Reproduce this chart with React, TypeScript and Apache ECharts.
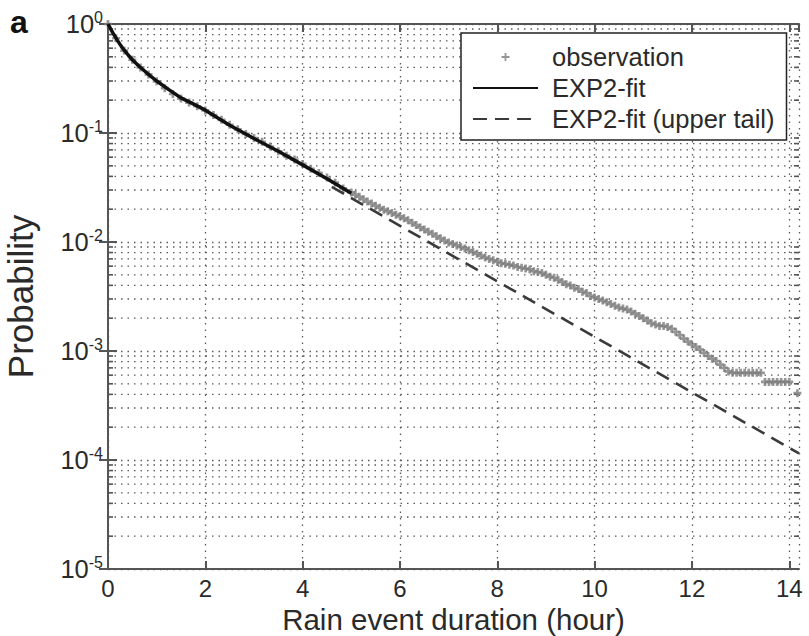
import React, { useEffect, useRef } from "react";
import * as echarts from "echarts";

const FONT = "'Liberation Sans', Arial, Helvetica, sans-serif";

// Observation: duration (hours) and exceedance probability
// 10-minute steps up to 5 h
const obsDurationHead: number[] = [
  0, 0.167, 0.333, 0.5, 0.667, 0.833, 1.0, 1.167, 1.333, 1.5, 1.667, 1.833, 2.0, 2.167, 2.333, 2.5, 2.667, 2.833,
  3.0, 3.167, 3.333, 3.5, 3.667, 3.833, 4.0, 4.167, 4.333, 4.5, 4.667, 4.833,
];
const obsProbHead: number[] = [
  1.0, 0.74, 0.57, 0.47, 0.40, 0.345, 0.298, 0.258, 0.228, 0.207, 0.19, 0.176, 0.161, 0.146, 0.132, 0.119, 0.108, 0.098,
  0.09, 0.083, 0.075, 0.068, 0.062, 0.057, 0.052, 0.047, 0.043, 0.039, 0.035, 0.031,
];
// 5-minute steps from 5 h onwards
const obsDurationTail: number[] = [
  5.0, 5.083, 5.167, 5.25, 5.333, 5.417, 5.5, 5.583, 5.667, 5.75, 5.833, 5.917,
  6.0, 6.083, 6.167, 6.25, 6.333, 6.417, 6.5, 6.583, 6.667, 6.75, 6.833, 6.917,
  7.0, 7.083, 7.167, 7.25, 7.333, 7.417, 7.5, 7.583, 7.667, 7.75, 7.833, 7.917,
  8.0, 8.083, 8.167, 8.25, 8.333, 8.417, 8.5, 8.583, 8.667, 8.75, 8.833, 8.917,
  9.0, 9.083, 9.167, 9.25, 9.333, 9.417, 9.5, 9.583, 9.667, 9.75, 9.833, 9.917,
  10.0, 10.083, 10.167, 10.25, 10.333, 10.417, 10.5, 10.583, 10.667, 10.75, 10.833, 10.917,
  11.0, 11.083, 11.167, 11.25, 11.333, 11.417, 11.5, 11.583, 11.667, 11.75, 11.833, 11.917,
  12.0, 12.083, 12.167, 12.25, 12.333, 12.417, 12.5, 12.583, 12.667, 12.75, 12.833, 12.917,
  13.0, 13.083, 13.167, 13.25, 13.333, 13.417, 13.5, 13.583, 13.667, 13.75, 13.833, 13.917,
  14.0, 14.167,
];
const obsProbTail: number[] = [
  0.0285, 0.0272, 0.026, 0.0247, 0.0235, 0.0225, 0.0215, 0.0206, 0.0198, 0.0191, 0.0185, 0.0178,
  0.0172, 0.0165, 0.0158, 0.015, 0.0143, 0.0136, 0.013, 0.0124, 0.0119, 0.0113, 0.0108, 0.0103,
  0.0099, 0.0096, 0.0093, 0.009, 0.0087, 0.0084, 0.0081, 0.0078, 0.0075, 0.0072, 0.007, 0.0068,
  0.0066, 0.0064, 0.0063, 0.0062, 0.0061, 0.0059, 0.0058, 0.0057, 0.0056, 0.0054, 0.0053, 0.0052,
  0.005, 0.0048, 0.0047, 0.0045, 0.0043, 0.0041, 0.004, 0.0038, 0.0037, 0.0035, 0.0034, 0.0032,
  0.0031, 0.003, 0.0029, 0.0028, 0.0027, 0.0026, 0.0025, 0.00245, 0.0024, 0.0023, 0.0022, 0.0021,
  0.002, 0.0019, 0.0018, 0.00175, 0.0017, 0.0017, 0.00166, 0.0016, 0.0015, 0.0014, 0.0013, 0.00122,
  0.00115, 0.00109, 0.00103, 0.00096, 0.0009, 0.00085, 0.00081, 0.00075, 0.0007, 0.00065, 0.00063, 0.00063,
  0.00063, 0.00063, 0.00063, 0.00063, 0.00063, 0.00063, 0.00052, 0.00052, 0.00052, 0.00052, 0.00052, 0.00052,
  0.00052, 0.00041,
];

// EXP2-fit (solid)
const fitDuration: number[] = [0, 0.1, 0.2, 0.3, 0.4, 0.5, 0.65, 0.8, 1.0, 1.25, 1.5, 1.75, 2.0, 2.25, 2.5, 3.0, 3.5, 4.0, 4.5, 5.0];
const fitProb: number[] = [1.0, 0.83, 0.7, 0.6, 0.53, 0.47, 0.405, 0.355, 0.3, 0.25, 0.21, 0.185, 0.162, 0.138, 0.118, 0.089, 0.068, 0.051, 0.038, 0.028];

// EXP2-fit (upper tail, dashed)
const tailDuration: number[] = [4.6, 14.2];
const tailProb: number[] = [0.032, 0.000115];

// Axis settings
const xTicks = { min: 0, max: 14.2, interval: 2 };
const yRange = { min: 1e-5, max: 1 };
const minorMultipliers: number[] = [2, 3, 4, 5, 6, 7, 8, 9];
const decadeExponents: number[] = [-5, -4, -3, -2, -1];

const seriesNames = ["observation", "EXP2-fit", "EXP2-fit (upper tail)"];

const GRID_COLOR = "#5a5a5a";
const FRAME = "#555";
const TEXT = "#2a2a2a";
const OBS_COLOR = "#7c7c7c";

export default function App() {
  const ref = useRef<HTMLDivElement>(null);

  useEffect(() => {
    document.body.style.margin = "0";
    if (!ref.current) return;
    const chart = echarts.init(ref.current, null, { renderer: "svg" });

    const minorValues: number[] = [];
    decadeExponents.forEach((e) => {
      minorMultipliers.forEach((m) => minorValues.push(m * Math.pow(10, e)));
    });

    const plus = "path://M3,0H6V3H9V6H6V9H3V6H0V3H3Z";
    const legendPlus = "path://M3.5,0H5.5V3.5H9V5.5H5.5V9H3.5V5.5H0V3.5H3.5Z";

    const obsData = [
      ...obsDurationHead.map((d, i) => [d, obsProbHead[i]]),
      ...obsDurationTail.map((d, i) => [d, obsProbTail[i]]),
    ];

    const axisLineStyle = { show: true, lineStyle: { color: FRAME, width: 2 } };
    const dotted = { color: GRID_COLOR, width: 1.3, type: [1.5, 5] as any };

    const option: any = {
      animation: false,
      backgroundColor: "#fff",
      textStyle: { fontFamily: FONT },
      grid: { left: 108, right: 10, top: 24, bottom: 67, containLabel: false, outerBoundsMode: "none" },
      graphic: [
        {
          type: "text",
          left: 10,
          top: 6,
          style: { text: "a", font: `bold 32px ${FONT}`, fill: "#111" },
        },
      ],
      legend: {
        orient: "vertical",
        left: 461,
        top: 33,
        padding: [9, 12, 6, 11],
        itemGap: 1,
        itemWidth: 65,
        itemHeight: 8,
        backgroundColor: "#fff",
        borderColor: "#222",
        borderWidth: 1.5,
        borderRadius: 0,
        textStyle: { fontSize: 25.5, color: TEXT, fontFamily: FONT, lineHeight: 30, padding: [0, 0, 0, 9] },
        data: [
          { name: seriesNames[0], icon: legendPlus, itemStyle: { color: OBS_COLOR } },
          { name: seriesNames[1], itemStyle: { opacity: 0 } },
          { name: seriesNames[2], itemStyle: { opacity: 0 } },
        ],
      },
      xAxis: [
        {
          type: "value",
          min: xTicks.min,
          max: xTicks.max,
          interval: xTicks.interval,
          position: "bottom",
          axisLine: axisLineStyle,
          axisTick: { show: true, inside: true, length: 8, lineStyle: { color: FRAME, width: 2 } },
          axisLabel: { fontSize: 24, color: TEXT, margin: 7, fontFamily: FONT, showMaxLabel: false },
          splitLine: { show: true, lineStyle: dotted },
          name: "Rain event duration (hour)",
          nameLocation: "middle",
          nameGap: 34,
          nameTextStyle: { fontSize: 29.5, color: TEXT, fontFamily: FONT },
        },
        {
          type: "value",
          min: xTicks.min,
          max: xTicks.max,
          interval: xTicks.interval,
          position: "top",
          axisLine: axisLineStyle,
          axisTick: { show: true, inside: true, length: 8, lineStyle: { color: FRAME, width: 2 } },
          axisLabel: { show: false },
          splitLine: { show: false },
        },
      ],
      yAxis: [
        {
          type: "log",
          logBase: 10,
          min: yRange.min,
          max: yRange.max,
          position: "left",
          axisLine: axisLineStyle,
          axisTick: { show: true, inside: true, length: 9, lineStyle: { color: FRAME, width: 2 } },
          splitLine: { show: true, lineStyle: dotted },
          axisLabel: {
            margin: 5,
            formatter: (v: number) => `{b|10}{s|${Math.round(Math.log10(v))}}`,
            rich: {
              b: { fontSize: 25.5, color: TEXT, fontFamily: FONT, lineHeight: 30, verticalAlign: "middle" },
              s: { fontSize: 16, color: TEXT, fontFamily: FONT, lineHeight: 16, verticalAlign: "top" },
            },
          },
          name: "Probability",
          nameLocation: "middle",
          nameGap: 70,
          nameTextStyle: { fontSize: 35, color: TEXT, fontFamily: FONT },
        },
        {
          type: "log",
          logBase: 10,
          min: yRange.min,
          max: yRange.max,
          position: "right",
          axisLine: axisLineStyle,
          axisTick: { show: true, inside: true, length: 9, lineStyle: { color: FRAME, width: 2 } },
          axisLabel: { show: false },
          splitLine: { show: false },
        },
      ],
      series: [
        {
          name: "minor-grid",
          type: "custom",
          xAxisIndex: 0,
          yAxisIndex: 0,
          silent: true,
          z: 1,
          clip: false,
          data: minorValues.map((v) => [0, v]),
          encode: { x: 0, y: 1 },
          renderItem: (params: any, api: any) => {
            const cs = params.coordSys;
            const y = api.coord([0, api.value(1)])[1];
            const x0 = cs.x;
            const x1 = cs.x + cs.width;
            return {
              type: "group",
              children: [
                { type: "line", shape: { x1: x0, y1: y, x2: x1, y2: y }, style: { stroke: GRID_COLOR, lineWidth: 1.3, lineDash: [1.5, 5] } },
                { type: "line", shape: { x1: x0, y1: y, x2: x0 + 5, y2: y }, style: { stroke: FRAME, lineWidth: 1.6 } },
                { type: "line", shape: { x1: x1 - 5, y1: y, x2: x1, y2: y }, style: { stroke: FRAME, lineWidth: 1.6 } },
              ],
            };
          },
        },
        {
          name: seriesNames[0],
          type: "scatter",
          symbol: plus,
          symbolSize: 8,
          itemStyle: { color: OBS_COLOR },
          z: 3,
          data: obsData,
        },
        {
          name: seriesNames[1],
          type: "line",
          showSymbol: false,
          symbol: "none",
          lineStyle: { color: "#111", width: 3.5 },
          itemStyle: { color: "#111" },
          z: 4,
          data: fitDuration.map((d, i) => [d, fitProb[i]]),
        },
        {
          name: seriesNames[2],
          type: "line",
          showSymbol: false,
          symbol: "none",
          lineStyle: { color: "#3a3a3a", width: 2.6, type: [14, 8] },
          itemStyle: { color: "#3a3a3a" },
          z: 4,
          data: tailDuration.map((d, i) => [d, tailProb[i]]),
        },
      ],
    };

    chart.setOption(option);
    return () => chart.dispose();
  }, []);

  return <div ref={ref} style={{ width: 809, height: 636 }} />;
}
